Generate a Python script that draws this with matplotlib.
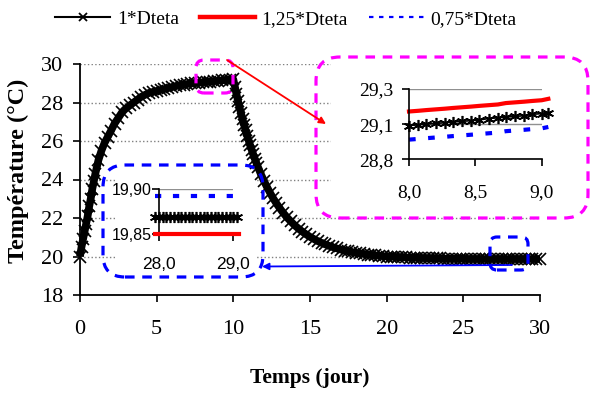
import matplotlib
matplotlib.use('Agg')
import matplotlib.pyplot as plt
from matplotlib.patches import FancyBboxPatch, FancyArrowPatch, Rectangle
from matplotlib.lines import Line2D

plt.rcParams['font.family'] = 'Liberation Serif'

W, H = 593, 396

# courbe principale 1*Dteta : temps (jour) / temperature (degC)
t_main = [0.0, 0.1, 0.2, 0.3, 0.4, 0.5, 0.6, 0.7, 0.8, 0.9, 1.0,
          1.2, 1.4, 1.6, 1.8, 2.0, 2.25, 2.5, 2.75, 3.0, 3.25, 3.5, 3.75,
          4.0, 4.25, 4.5, 4.75, 5.0, 5.25, 5.5, 5.75, 6.0, 6.25, 6.5, 6.75,
          7.0, 7.25, 7.5, 7.75, 8.0, 8.25, 8.5, 8.75, 9.0, 9.25, 9.5, 9.75, 10.0,
          10.1, 10.2, 10.3, 10.4, 10.5, 10.6, 10.7, 10.8, 10.9, 11.0,
          11.1, 11.2, 11.3, 11.4, 11.5, 11.6, 11.8, 12.0, 12.2, 12.4, 12.6, 12.8, 13.0,
          13.25, 13.5, 13.75, 14.0, 14.25, 14.5, 14.75, 15.0, 15.25, 15.5, 15.75, 16.0,
          16.25, 16.5, 16.75, 17.0, 17.25, 17.5, 17.75, 18.0, 18.25, 18.5, 18.75, 19.0,
          19.25, 19.5, 19.75, 20.0, 20.25, 20.5, 20.75, 21.0, 21.25, 21.5, 21.75, 22.0,
          22.25, 22.5, 22.75, 23.0, 23.25, 23.5, 23.75, 24.0, 24.25, 24.5, 24.75, 25.0,
          25.25, 25.5, 25.75, 26.0, 26.25, 26.5, 26.75, 27.0, 27.25, 27.5, 27.75, 28.0,
          28.25, 28.5, 28.75, 29.0, 29.25, 29.5, 29.75, 30.0]
T_main = [20.0, 20.5, 20.9, 21.3, 21.7, 22.1, 22.6, 23.0, 23.5, 23.9, 24.3,
          25.0, 25.5, 25.9, 26.2, 26.5, 26.9, 27.2, 27.5, 27.7, 27.85, 28.0, 28.15,
          28.3, 28.4, 28.5, 28.55, 28.6, 28.65, 28.7, 28.75, 28.8, 28.85, 28.9, 28.93,
          28.96, 28.99, 29.01, 29.03, 29.05, 29.07, 29.09, 29.11, 29.13, 29.15, 29.17, 29.19, 29.2,
          28.82, 28.45, 28.1, 27.76, 27.44, 27.13, 26.84, 26.55, 26.28, 26.02,
          25.77, 25.53, 25.3, 25.07, 24.86, 24.66, 24.27, 23.92, 23.6, 23.3, 23.02, 22.77, 22.54,
          22.27, 22.03, 21.82, 21.62, 21.45, 21.29, 21.15, 21.02, 20.91, 20.8, 20.71, 20.63,
          20.55, 20.48, 20.42, 20.36, 20.31, 20.27, 20.23, 20.19, 20.16, 20.13, 20.1, 20.08,
          20.06, 20.04, 20.02, 20.0, 19.99, 19.98, 19.97, 19.96, 19.95, 19.94, 19.93, 19.93,
          19.92, 19.92, 19.91, 19.91, 19.9, 19.9, 19.89, 19.89, 19.89, 19.88, 19.88, 19.88,
          19.87, 19.87, 19.87, 19.87, 19.87, 19.87, 19.87, 19.87, 19.87, 19.87, 19.87, 19.87,
          19.87, 19.87, 19.87, 19.87, 19.87, 19.87, 19.87, 19.87]

# zoom haut droite (jours 8 a 9)
t_z1 = [8.0, 8.07, 8.13, 8.2, 8.27, 8.33, 8.4, 8.47, 8.53, 8.6, 8.67, 8.73, 8.8, 8.87, 8.93, 9.0, 9.05]
T_z1_ref = [29.04, 29.045, 29.05, 29.055, 29.06, 29.065, 29.07, 29.075, 29.08, 29.09,
            29.095, 29.1, 29.105, 29.11, 29.12, 29.125, 29.13]
T_z1_125 = [29.14, 29.145, 29.15, 29.155, 29.16, 29.165, 29.17, 29.175, 29.18, 29.185,
            29.19, 29.2, 29.205, 29.21, 29.215, 29.22, 29.23]
T_z1_075 = [28.94, 28.945, 28.95, 28.955, 28.96, 28.965, 28.97, 28.975, 28.98, 28.985,
            28.99, 29.0, 29.005, 29.01, 29.015, 29.02, 29.03]

# zoom bas gauche (jours 28 a 29)
t_z2 = [27.95, 28.0, 28.05, 28.1, 28.15, 28.2, 28.25, 28.3, 28.35, 28.4, 28.45, 28.5,
        28.55, 28.6, 28.65, 28.7, 28.75, 28.8, 28.85, 28.9, 28.95, 29.0, 29.05]
T_z2_ref = [19.869, 19.869, 19.869, 19.869, 19.869, 19.869, 19.869, 19.869, 19.869, 19.869,
            19.869, 19.869, 19.869, 19.869, 19.869, 19.869, 19.869, 19.869, 19.869, 19.869,
            19.869, 19.869, 19.869]
t_z2_ends = [27.95, 29.08]
T_z2_125 = [19.85, 19.85]
T_z2_075 = [19.892, 19.892]

labels = ['1*Dteta', '1,25*Dteta', '0,75*Dteta']
RED = '#ff0000'
BLUE = '#0000ff'
MAG = '#ff00ff'


def px(x, y):
    # pixel image -> pouces (origine en bas)
    return x / 100.0, (H - y) / 100.0


def fig_rect(x0, y0, x1, y1):
    return [x0 / W, 1 - y1 / H, (x1 - x0) / W, (y1 - y0) / H]


fig = plt.figure(figsize=(W / 100, H / 100), dpi=100)
ax = fig.add_axes(fig_rect(80, 64, 540, 295))

ax.set_axisbelow(True)
ax.yaxis.grid(True, color='#808080', linestyle=':', linewidth=1.0)
ax.plot(t_main, T_main, color='black', lw=5.5, solid_capstyle='butt', zorder=3, clip_on=False)
ax.plot(t_main, T_main, color='black', lw=0, marker='x', ms=9, mew=1.2, zorder=3, clip_on=False)

# zones blanches des graphiques zoomes
for (x0, y0, x1, y1) in [(117, 172, 257, 283), (331, 58, 545, 205)]:
    ax.add_patch(Rectangle(px(x0, y1), (x1 - x0) / 100, (y1 - y0) / 100,
                           transform=fig.dpi_scale_trans, facecolor='white',
                           edgecolor='none', zorder=1, clip_on=False))

ax.set_xlim(0, 30)
ax.set_ylim(18, 30)
ax.set_xticks(range(0, 31, 5))
ax.set_yticks(range(18, 31, 2))
for s in ['top', 'right']:
    ax.spines[s].set_visible(False)
for s in ['left', 'bottom']:
    ax.spines[s].set_linewidth(1.3)
ax.tick_params(axis='both', direction='out', length=5, width=1.2, labelsize=16)
ax.tick_params(axis='x', pad=13)
ax.tick_params(axis='y', pad=7)

fig.text(18 / W, 1 - 171 / H, 'Température (°C)', rotation=90, ha='center', va='center',
         fontsize=17.5, fontweight='bold')
fig.text(310 / W, 1 - 378 / H, 'Temps (jour)', ha='center', va='center',
         fontsize=15.5, fontweight='bold')

handles = [Line2D([], [], color='black', lw=1.5, marker='x', ms=6, mew=1.3),
           Line2D([], [], color=RED, lw=3.2),
           Line2D([], [], color=BLUE, lw=1.6, linestyle=(0, (2, 2.5)))]
fig.legend(handles, labels, loc='center', bbox_to_anchor=(286 / W, 1 - 19 / H), ncol=3,
           frameon=False, fontsize=14, handlelength=2.8, handletextpad=0.35,
           columnspacing=1.1, numpoints=1)

# zoom haut droite
ax1 = fig.add_axes(fig_rect(409, 89, 541.7, 159.3), facecolor='none')
ax1.set_axisbelow(True)
ax1.yaxis.grid(True, color='#909090', linewidth=1.0)
ax1.plot(t_z1, T_z1_125, color=RED, lw=3, clip_on=False)
ax1.plot(t_z1, T_z1_075, color=BLUE, lw=3, linestyle=(0, (1.6, 3.0)), clip_on=False)
ax1.plot(t_z1, T_z1_ref, color='black', lw=1.2, marker=(6, 2, 0), ms=8, mew=1.2, clip_on=False)
ax1.set_xlim(8, 9)
ax1.set_ylim(28.8, 29.3)
ax1.set_xticks([8.0, 8.5, 9.0])
ax1.set_xticklabels(['8,0', '8,5', '9,0'])
ax1.set_yticks([28.8, 29.05, 29.3])
ax1.set_yticklabels(['28,8', '29,1', '29,3'])
for s in ['top', 'right']:
    ax1.spines[s].set_visible(False)
for s in ['left', 'bottom']:
    ax1.spines[s].set_linewidth(1.2)
ax1.tick_params(axis='both', direction='out', length=5, width=1.2, labelsize=14)
ax1.tick_params(axis='x', pad=13)
ax1.tick_params(axis='y', pad=6)

# zoom bas gauche
ax2 = fig.add_axes(fig_rect(159, 189.3, 233.3, 234), facecolor='none')
ax2.set_axisbelow(True)
ax2.yaxis.grid(True, color='#909090', linewidth=1.0)
ax2.plot(t_z2_ends, T_z2_075, color=BLUE, lw=3, linestyle=(0, (1.5, 2.8)), clip_on=False)
ax2.plot(t_z2, T_z2_ref, color='black', lw=1.2, marker=(6, 2, 0), ms=8, mew=1.2, clip_on=False)
ax2.plot(t_z2_ends, T_z2_125, color=RED, lw=3, clip_on=False, zorder=5)
ax2.set_xlim(28, 29)
ax2.set_ylim(19.85, 19.90)
ax2.set_xticks([28.0, 29.0])
ax2.set_xticklabels(['28,0', '29,0'])
ax2.set_yticks([19.85, 19.90])
ax2.set_yticklabels(['19,85', '19,90'])
for s in ['top', 'right']:
    ax2.spines[s].set_visible(False)
for s in ['left', 'bottom']:
    ax2.spines[s].set_linewidth(1.2)
ax2.tick_params(axis='both', direction='out', length=5, width=1.2)
ax2.tick_params(axis='x', pad=11.5)
ax2.tick_params(axis='y', pad=0)
for lab in ax2.get_xticklabels() + ax2.get_yticklabels():
    lab.set_family('Liberation Sans')
ax2.tick_params(axis='x', labelsize=12.5)
ax2.tick_params(axis='y', labelsize=11.5)


def dashed_box(x0, y0, x1, y1, r, color):
    fig.add_artist(FancyBboxPatch(px(x0, y1), (x1 - x0) / 100, (y1 - y0) / 100,
                                  boxstyle='round,pad=0,rounding_size=%g' % (r / 100),
                                  transform=fig.dpi_scale_trans, facecolor='none',
                                  edgecolor=color, lw=2.3, linestyle=(0, (3, 2.4)),
                                  zorder=10))


dashed_box(316, 57, 588, 218, 24, MAG)
dashed_box(196, 60, 233, 93, 8, MAG)
dashed_box(103, 165, 263, 277, 22, BLUE)
dashed_box(490, 237, 528, 270, 7, BLUE)

fig.add_artist(FancyArrowPatch(px(227, 60), px(326, 124), transform=fig.dpi_scale_trans,
                               arrowstyle='-|>', mutation_scale=10, color=RED, lw=1.3,
                               shrinkA=0, shrinkB=0, zorder=11))
fig.add_artist(FancyArrowPatch(px(512, 265), px(262, 266.5), transform=fig.dpi_scale_trans,
                               arrowstyle='-|>', mutation_scale=10, color=BLUE, lw=1.3,
                               shrinkA=0, shrinkB=0, zorder=11))

fig.savefig('out.png', dpi=100)
